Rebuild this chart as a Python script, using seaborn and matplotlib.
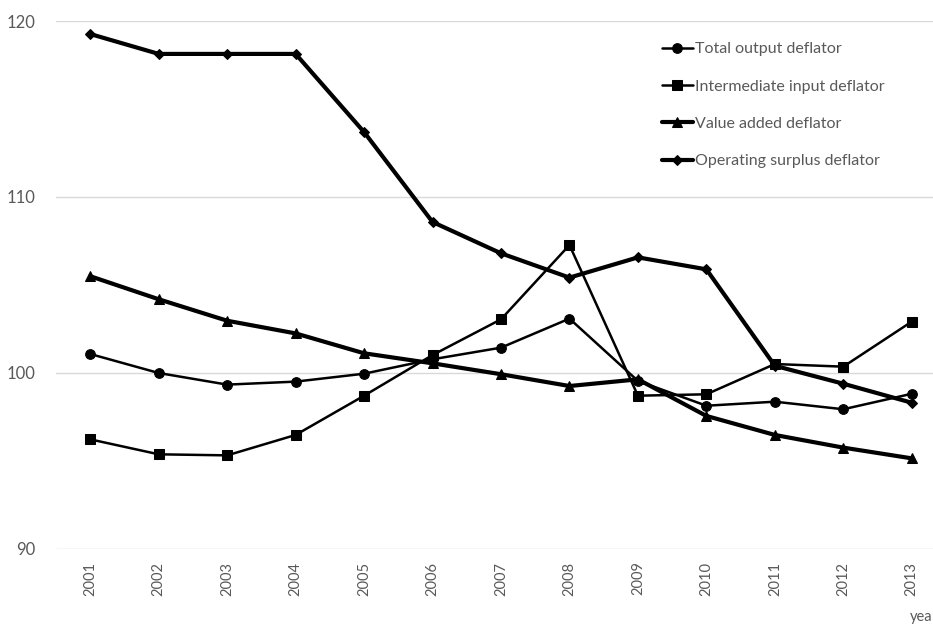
import matplotlib
matplotlib.use("Agg")
import matplotlib.pyplot as plt
import seaborn as sns
import pandas as pd

years = ["2001", "2002", "2003", "2004", "2005", "2006", "2007",
         "2008", "2009", "2010", "2011", "2012", "2013"]

total_output = [101.08, 100.0, 99.34, 99.51, 99.96, 100.78, 101.44,
                103.09, 99.55, 98.14, 98.37, 97.94, 98.82]
intermediate_input = [96.23, 95.38, 95.32, 96.48, 98.71, 101.02, 103.05,
                      107.27, 98.71, 98.79, 100.51, 100.36, 102.92]
value_added = [105.5, 104.19, 102.97, 102.25, 101.12, 100.55, 99.93,
               99.26, 99.64, 97.56, 96.48, 95.76, 95.15]
operating_surplus = [119.26, 118.13, 118.13, 118.13, 113.69, 108.58, 106.8,
                     105.42, 106.57, 105.89, 100.41, 99.39, 98.31]

series_names = ["Total output deflator", "Intermediate input deflator",
                "Value added deflator", "Operating surplus deflator"]
series_values = [total_output, intermediate_input, value_added, operating_surplus]
markers = ["o", "s", "^", "D"]
marker_sizes = [7, 7, 7.5, 5.5]
line_widths = [1.8, 1.8, 3.0, 3.0]

sns.set_theme(style="white")
plt.rcParams["font.family"] = ["Lato", "DejaVu Sans"]

grey = "#595959"
fig = plt.figure(figsize=(9.33, 6.26), dpi=100)
ax = fig.add_axes([56 / 933, 1 - 549 / 626, (946 - 56) / 933, (549 - 21) / 626])

for name, vals, mk, ms, lw in zip(series_names, series_values, markers,
                                  marker_sizes, line_widths):
    df = pd.DataFrame({"year": range(len(years)), "value": vals})
    sns.lineplot(data=df, x="year", y="value", ax=ax, color="black",
                 linewidth=lw, marker=mk, markersize=ms,
                 markeredgecolor="black", markerfacecolor="black",
                 label=name, zorder=3)

ax.set_xlim(-0.5, 12.5)
ax.set_ylim(90, 120)
ax.set_yticks([90, 100, 110, 120])
ax.set_xticks(range(len(years)))
ax.set_xticklabels(years, rotation=90, color=grey, fontsize=10.5)
ax.tick_params(axis="y", colors=grey, labelsize=12, length=0, pad=15)
ax.tick_params(axis="x", length=0, pad=9)
ax.yaxis.grid(True, color="#d9d9d9", linewidth=1)
ax.set_axisbelow(True)
for s in ax.spines.values():
    s.set_visible(False)
ax.set_xlabel("")
ax.set_ylabel("")

leg = ax.legend(loc="upper left", bbox_to_anchor=(0.674, 0.972), frameon=False,
                fontsize=11.5, handlelength=1.9, handletextpad=0.15,
                labelspacing=1.45, borderaxespad=0)
for t in leg.get_texts():
    t.set_color(grey)

fig.text(932 / 933, 1 - 617 / 626, "yea", color=grey, fontsize=10.5,
         va="center", ha="right")

fig.savefig("out.png", dpi=100)
